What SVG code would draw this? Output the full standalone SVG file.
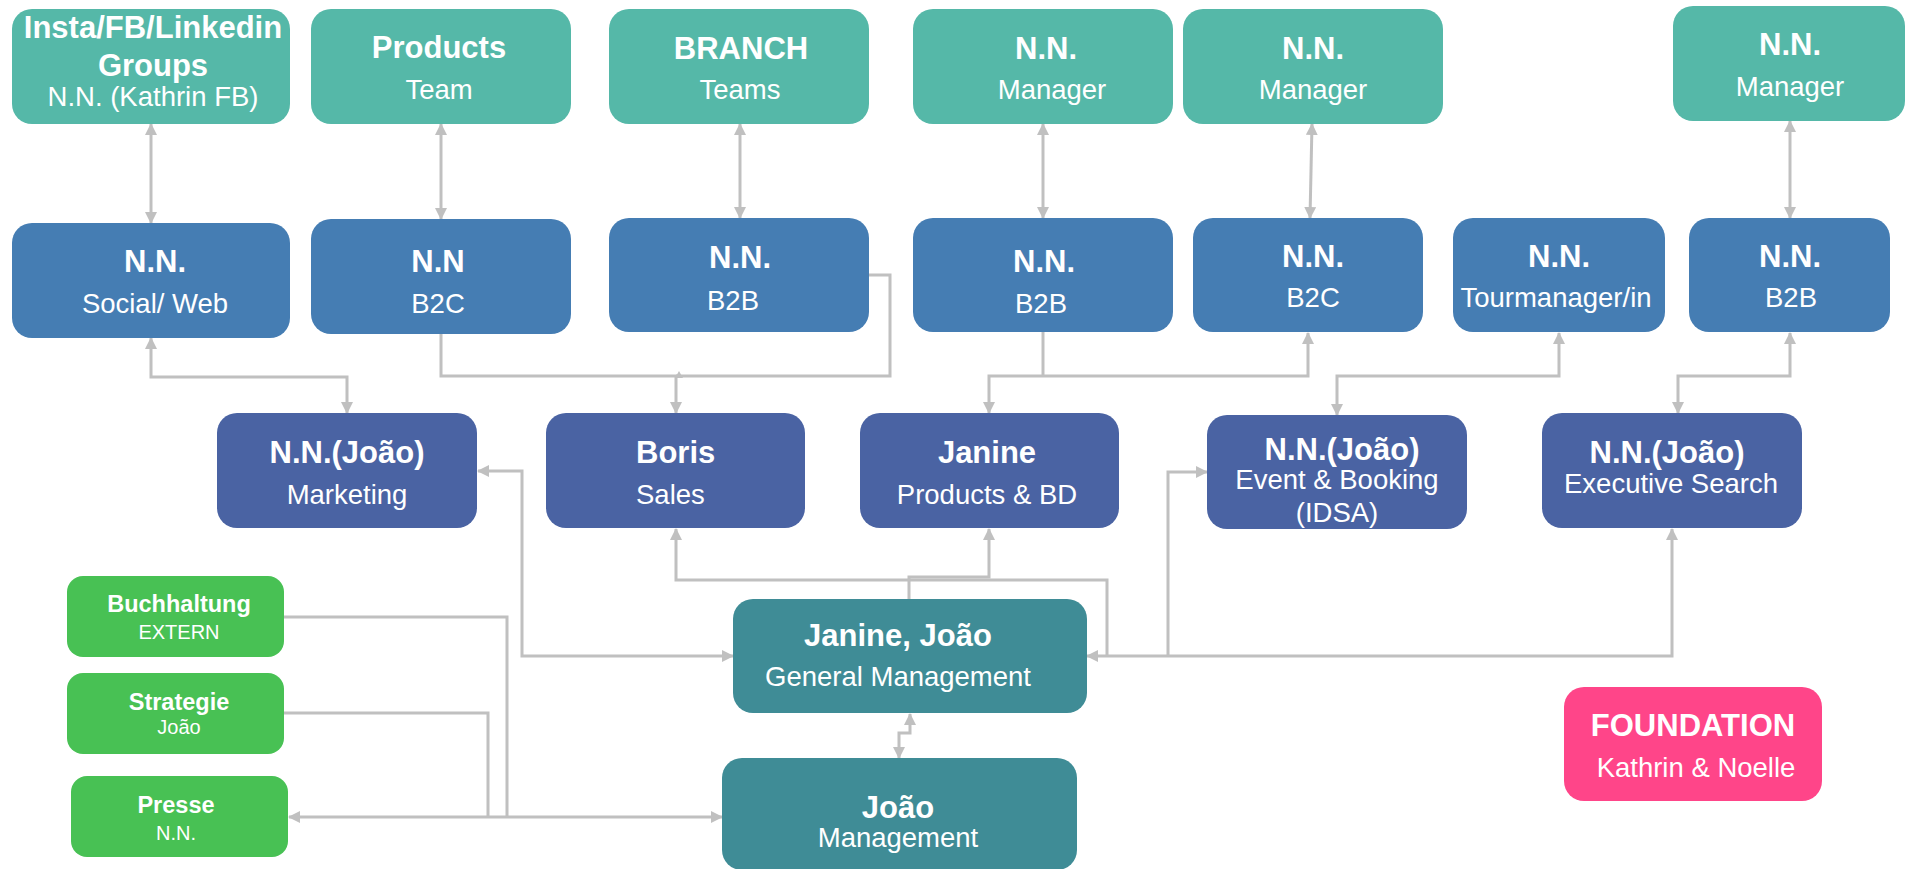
<svg xmlns="http://www.w3.org/2000/svg" width="1910" height="869" viewBox="0 0 1910 869">
  <style>
    text { font-family: "Liberation Sans", Arial, Helvetica, sans-serif; fill: #ffffff; text-anchor: middle; }
    .h { font-weight: bold; font-size: 31px; }
    .s { font-size: 27.5px; }
    .gh { font-weight: bold; font-size: 23.5px; }
    .gs { font-size: 20px; }
    .teal { fill: #55B8A8; }
    .blue { fill: #457DB3; }
    .navy { fill: #4A63A3; }
    .mgmt { fill: #3F8C96; }
    .green { fill: #48C154; }
    .pink { fill: #FF4589; }
    .c { fill: none; stroke: #C0C0C0; stroke-width: 3; }
    .both { marker-start: url(#arr); marker-end: url(#arr); }
    .end { marker-end: url(#arr); }
    .start { marker-start: url(#arr); }
  </style>
  <defs>
    <marker id="arr" viewBox="0 0 12 12" refX="11" refY="6" markerWidth="12" markerHeight="12" markerUnits="userSpaceOnUse" orient="auto-start-reverse">
      <path d="M0,0 L12,6 L0,12 z" fill="#C0C0C0"/>
    </marker>
  </defs>
  <rect width="1910" height="869" fill="#ffffff"/>

  <!-- connectors -->
  <g id="connectors">
    <path class="c both" d="M151,124 V223"/>
    <path class="c both" d="M441,124 V219"/>
    <path class="c both" d="M740,124 V218"/>
    <path class="c both" d="M1043,124 V218"/>
    <path class="c both" d="M1312,124 L1310,218"/>
    <path class="c both" d="M1790,121 V218"/>

    <path class="c both" d="M151,338 V377 H347 V413"/>
    <path class="c end" d="M441,334 V376 H676 V413"/>
    <path class="c" d="M869,275 H890 V376 H676"/>
    <polygon points="679,371 675,378 683,378" fill="#C0C0C0"/>
    <path class="c both" d="M989,413 V376 H1308 V333"/>
    <path class="c" d="M1043,332 V376"/>
    <path class="c both" d="M1559,333 V376 H1337 V415"/>
    <path class="c both" d="M1790,333 V376 H1678 V413"/>

    <path class="c both" d="M478,471 H522 V656 H733"/>
    <path class="c" d="M284,617 H507 V817"/>
    <path class="c" d="M284,713 H488 V817"/>
    <path class="c both" d="M289,817 H722"/>
    <path class="c end" d="M909,599 V577 H989 V529"/>
    <path class="c start" d="M676,529 V580 H1107 V656"/>
    <path class="c both" d="M1087,656 H1672 V529"/>
    <path class="c end" d="M1168,656 V472 H1207"/>
    <path class="c both" d="M910,714 V733 H899 V758"/>
  </g>

  <!-- top row: groups and managers -->
  <g id="node-insta">
    <rect class="teal" x="12" y="9" width="278" height="115" rx="20"/>
    <text class="h" x="153" y="38">Insta/FB/Linkedin</text>
    <text class="h" x="153" y="76">Groups</text>
    <text class="s" x="153" y="106">N.N. (Kathrin FB)</text>
  </g>
  <g id="node-products-team">
    <rect class="teal" x="311" y="9" width="260" height="115" rx="20"/>
    <text class="h" x="439" y="58">Products</text>
    <text class="s" x="439" y="99">Team</text>
  </g>
  <g id="node-branch">
    <rect class="teal" x="609" y="9" width="260" height="115" rx="20"/>
    <text class="h" x="741" y="59">BRANCH</text>
    <text class="s" x="740" y="99">Teams</text>
  </g>
  <g id="node-manager-1">
    <rect class="teal" x="913" y="9" width="260" height="115" rx="20"/>
    <text class="h" x="1046" y="59">N.N.</text>
    <text class="s" x="1052" y="99">Manager</text>
  </g>
  <g id="node-manager-2">
    <rect class="teal" x="1183" y="9" width="260" height="115" rx="20"/>
    <text class="h" x="1313" y="59">N.N.</text>
    <text class="s" x="1313" y="99">Manager</text>
  </g>
  <g id="node-manager-3">
    <rect class="teal" x="1673" y="6" width="232" height="115" rx="20"/>
    <text class="h" x="1790" y="55">N.N.</text>
    <text class="s" x="1790" y="96">Manager</text>
  </g>

  <!-- second row: team roles -->
  <g id="node-social-web">
    <rect class="blue" x="12" y="223" width="278" height="115" rx="20"/>
    <text class="h" x="155" y="272">N.N.</text>
    <text class="s" x="155" y="313">Social/ Web</text>
  </g>
  <g id="node-b2c-1">
    <rect class="blue" x="311" y="219" width="260" height="115" rx="20"/>
    <text class="h" x="438" y="272">N.N</text>
    <text class="s" x="438" y="313">B2C</text>
  </g>
  <g id="node-b2b-1">
    <rect class="blue" x="609" y="218" width="260" height="114" rx="20"/>
    <text class="h" x="740" y="268">N.N.</text>
    <text class="s" x="733" y="310">B2B</text>
  </g>
  <g id="node-b2b-2">
    <rect class="blue" x="913" y="218" width="260" height="114" rx="20"/>
    <text class="h" x="1044" y="272">N.N.</text>
    <text class="s" x="1041" y="313">B2B</text>
  </g>
  <g id="node-b2c-2">
    <rect class="blue" x="1193" y="218" width="230" height="114" rx="20"/>
    <text class="h" x="1313" y="267">N.N.</text>
    <text class="s" x="1313" y="307">B2C</text>
  </g>
  <g id="node-tourmanager">
    <rect class="blue" x="1453" y="218" width="212" height="114" rx="20"/>
    <text class="h" x="1559" y="267">N.N.</text>
    <text class="s" x="1556" y="307">Tourmanager/in</text>
  </g>
  <g id="node-b2b-3">
    <rect class="blue" x="1689" y="218" width="201" height="114" rx="20"/>
    <text class="h" x="1790" y="267">N.N.</text>
    <text class="s" x="1791" y="307">B2B</text>
  </g>

  <!-- third row: departments -->
  <g id="node-marketing">
    <rect class="navy" x="217" y="413" width="260" height="115" rx="20"/>
    <text class="h" x="347" y="463">N.N.(João)</text>
    <text class="s" x="347" y="504">Marketing</text>
  </g>
  <g id="node-sales">
    <rect class="navy" x="546" y="413" width="259" height="115" rx="20"/>
    <text class="h" x="636" y="463" style="text-anchor:start">Boris</text>
    <text class="s" x="636" y="504" style="text-anchor:start">Sales</text>
  </g>
  <g id="node-products-bd">
    <rect class="navy" x="860" y="413" width="259" height="115" rx="20"/>
    <text class="h" x="987" y="463">Janine</text>
    <text class="s" x="987" y="504">Products &amp; BD</text>
  </g>
  <g id="node-event-booking">
    <rect class="navy" x="1207" y="415" width="260" height="114" rx="20"/>
    <text class="h" x="1342" y="460">N.N.(João)</text>
    <text class="s" x="1337" y="489">Event &amp; Booking</text>
    <text class="s" x="1337" y="522">(IDSA)</text>
  </g>
  <g id="node-executive-search">
    <rect class="navy" x="1542" y="413" width="260" height="115" rx="20"/>
    <text class="h" x="1667" y="463">N.N.(João)</text>
    <text class="s" x="1671" y="493">Executive Search</text>
  </g>

  <!-- management -->
  <g id="node-general-management">
    <rect class="mgmt" x="733" y="599" width="354" height="114" rx="20"/>
    <text class="h" x="898" y="646">Janine, João</text>
    <text class="s" x="898" y="686">General Management</text>
  </g>
  <g id="node-management">
    <rect class="mgmt" x="722" y="758" width="355" height="112" rx="20"/>
    <text class="h" x="898" y="818">João</text>
    <text class="s" x="898" y="847">Management</text>
  </g>

  <!-- support functions -->
  <g id="node-buchhaltung">
    <rect class="green" x="67" y="576" width="217" height="81" rx="16"/>
    <text class="gh" x="179" y="612">Buchhaltung</text>
    <text class="gs" x="179" y="639">EXTERN</text>
  </g>
  <g id="node-strategie">
    <rect class="green" x="67" y="673" width="217" height="81" rx="16"/>
    <text class="gh" x="179" y="710">Strategie</text>
    <text class="gs" x="179" y="734">João</text>
  </g>
  <g id="node-presse">
    <rect class="green" x="71" y="776" width="217" height="81" rx="16"/>
    <text class="gh" x="176" y="813">Presse</text>
    <text class="gs" x="176" y="840">N.N.</text>
  </g>

  <g id="node-foundation">
    <rect class="pink" x="1564" y="687" width="258" height="114" rx="20"/>
    <text class="h" x="1693" y="736">FOUNDATION</text>
    <text class="s" x="1696" y="777">Kathrin &amp; Noelle</text>
  </g>
</svg>
